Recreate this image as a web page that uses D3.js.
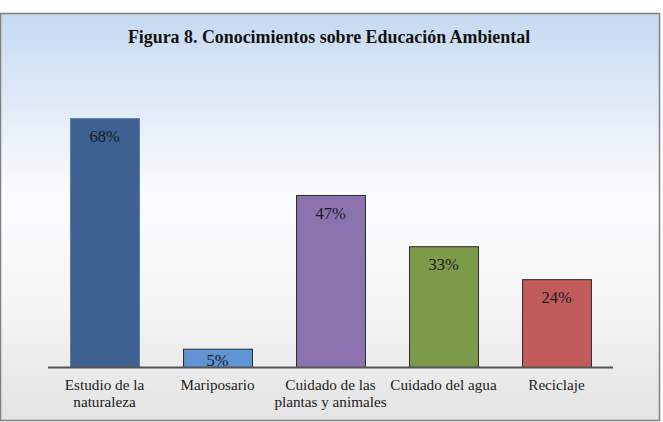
<!DOCTYPE html>
<html>
<head>
<meta charset="utf-8">
<script src="https://cdn.jsdelivr.net/npm/d3@7"></script>
<style>
  body { margin: 0; background: #fff; }
</style>
</head>
<body>
<div id="chart"></div>
<script>
// data
var categories = ["Estudio de la\nnaturaleza", "Mariposario", "Cuidado de las\nplantas y animales", "Cuidado del agua", "Reciclaje"];
var values = [68, 5, 47, 33, 24];
var barColors = ["#3d6190", "#5f93d3", "#8c73b0", "#7d9a4a", "#c25c5a"];

var width = 663, height = 422;

var svg = d3.select("#chart")
  .append("svg")
    .attr("width", width)
    .attr("height", height);

// background gradient of the chart frame
var grad = svg.append("defs").append("linearGradient")
    .attr("id", "bg")
    .attr("x1", 0).attr("y1", 0).attr("x2", 0).attr("y2", 1);
grad.append("stop").attr("offset", "0%").attr("stop-color", "#c6d9f0");
grad.append("stop").attr("offset", "45%").attr("stop-color", "#fbfcfe");
grad.append("stop").attr("offset", "70%").attr("stop-color", "#f6f6f6");
grad.append("stop").attr("offset", "100%").attr("stop-color", "#e3e3e3");

svg.append("rect")
    .attr("x", 0.5).attr("y", 13.5)
    .attr("width", 659).attr("height", 407)
    .attr("fill", "url(#bg)")
    .attr("stroke", "#7f7f7f")
    .attr("stroke-width", 1.5);

var serif = "'Liberation Serif', 'Times New Roman', serif";

svg.append("text")
    .attr("x", 329).attr("y", 43)
    .attr("text-anchor", "middle")
    .style("font-family", serif)
    .style("font-size", "17.9px")
    .style("font-weight", "bold")
    .attr("fill", "#111")
    .text("Figura 8. Conocimientos sobre Educación Ambiental");

var x = d3.scaleBand()
    .domain(categories)
    .range([48, 613])
    .paddingInner(0.39)
    .paddingOuter(0.195);

var y = d3.scaleLinear()
    .domain([0, 100])
    .range([367, 1]);

// bars
svg.append("g")
  .selectAll("rect")
  .data(values)
  .enter()
  .append("rect")
    .attr("x", function(d, i){ return x(categories[i]) + 0.5; })
    .attr("y", function(d){ return y(d) + 0.5; })
    .attr("width", x.bandwidth())
    .attr("height", function(d){ return y(0) - y(d); })
    .attr("fill", function(d, i){ return barColors[i]; })
    .attr("stroke", function(d, i){ return i == 0 ? "#5a7ca6" : "#2b2b2b"; })
    .attr("stroke-width", 1);

// value labels
svg.append("g")
  .selectAll("text")
  .data(values)
  .enter()
  .append("text")
    .attr("x", function(d, i){ return x(categories[i]) + x.bandwidth() / 2; })
    .attr("y", function(d){ return Math.min(y(d) + 24, y(0) - 1); })
    .attr("text-anchor", "middle")
    .style("font-family", serif)
    .style("font-size", "16.5px")
    .attr("fill", "#1a1a1a")
    .text(function(d){ return d + "%"; });

// x axis line
svg.append("line")
    .attr("x1", 48).attr("x2", 613)
    .attr("y1", 367.5).attr("y2", 367.5)
    .attr("stroke", "#555")
    .attr("stroke-width", 2);

// category labels
var lab = svg.append("g")
  .selectAll("text")
  .data(categories)
  .enter()
  .append("text")
    .attr("x", function(d){ return x(d) + x.bandwidth() / 2; })
    .attr("y", 390)
    .attr("text-anchor", "middle")
    .style("font-family", serif)
    .style("font-size", "15.2px")
    .attr("fill", "#222");

lab.selectAll("tspan")
  .data(function(d){ return d.split("\n"); })
  .enter()
  .append("tspan")
    .attr("x", function(){ return d3.select(this.parentNode).attr("x"); })
    .attr("dy", function(d, i){ return i ? 16.5 : 0; })
    .text(function(d){ return d; });
</script>
</body>
</html>
